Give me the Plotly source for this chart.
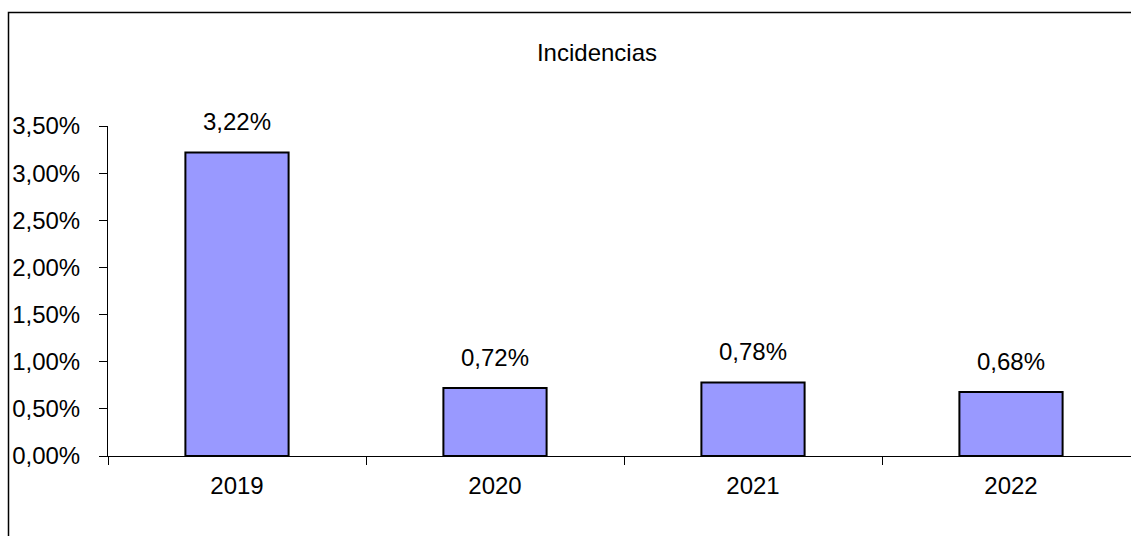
import plotly.graph_objects as go

categories = ["2019", "2020", "2021", "2022"]
values = [0.0322, 0.0072, 0.0078, 0.0068]
title_text = "Incidencias"

def fmt(v):
    return f"{v*100:.2f}%".replace(".", ",")

labels = [fmt(v) for v in values]

W, H = 1131, 536
L, R, T, B = 108, 0, 126, 80
plot_w = W - L - R
plot_h = H - T - B

fig = go.Figure()
fig.add_trace(go.Bar(
    x=categories, y=values, width=0.40,
    marker=dict(color="#9999FF", line=dict(color="black", width=2)),
    hoverinfo="skip",
))
fig.add_trace(go.Scatter(
    x=categories, y=values, mode="markers+text", text=labels,
    textposition="top center", cliponaxis=False,
    marker=dict(size=24, color="rgba(0,0,0,0)", line=dict(width=0)),
    textfont=dict(family="Liberation Sans, Arial", size=24, color="black"),
    hoverinfo="skip",
))

# outer frame (chart area border)
fig.add_shape(type="rect", xref="paper", yref="paper",
              x0=(8.5 - L) / plot_w, x1=1.02,
              y0=-1, y1=(H - B - 12.5) / plot_h,
              line=dict(color="black", width=1.5), fillcolor="rgba(0,0,0,0)", layer="below")

fig.update_layout(
    width=W, height=H,
    margin=dict(l=L, r=R, t=T, b=B, pad=0),
    paper_bgcolor="white", plot_bgcolor="white",
    separators=",.",
    showlegend=False,
    hovermode=False,
    font=dict(family="Liberation Sans, Arial", size=24, color="black"),
    title=dict(text=title_text, x=597 / W, xanchor="center", xref="container",
               y=1 - 53 / H, yanchor="middle", yref="container",
               font=dict(size=24, color="black")),
)

fig.update_xaxes(type="category", range=[-0.5, -0.5 + plot_w / 258.0],
                 showline=True, linecolor="black", linewidth=1,
                 ticks="outside", tickson="boundaries", ticklen=8, tickcolor="black",
                 tickwidth=1, showgrid=False, zeroline=False,
                 ticklabelstandoff=8, tickfont=dict(size=24))
fig.update_yaxes(range=[0, 0.035], dtick=0.005, tickformat=".2%",
                 showline=True, linecolor="black", linewidth=1,
                 ticks="outside", ticklen=8, tickcolor="black", tickwidth=1,
                 showgrid=False, zeroline=False,
                 ticklabelstandoff=14, tickfont=dict(size=24))

fig.write_html("out.html", config={"displayModeBar": False},
               post_script="document.body.style.margin='0';document.body.style.overflow='hidden';")
